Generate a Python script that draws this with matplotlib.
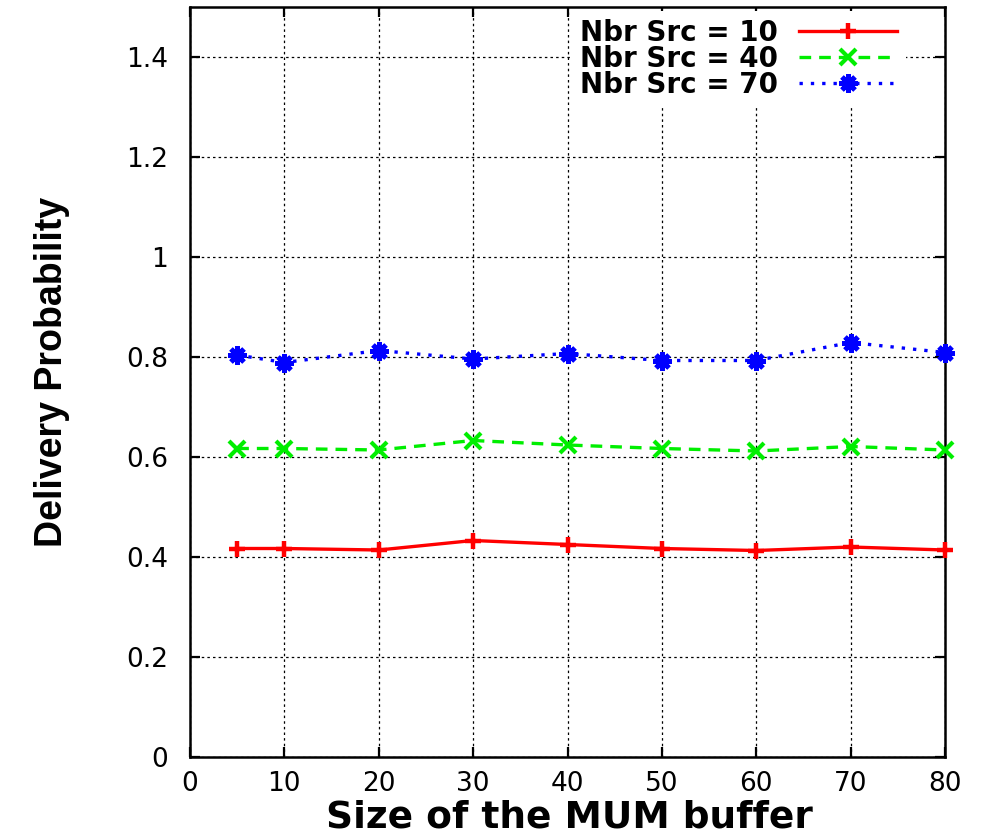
import matplotlib
matplotlib.use("Agg")
import matplotlib.pyplot as plt

# Delivery probability versus MUM buffer size for three source counts
buffer_sizes = [5, 10, 20, 30, 40, 50, 60, 70, 80]
src10 = [0.417, 0.417, 0.414, 0.433, 0.425, 0.417, 0.413, 0.420, 0.414]
src40 = [0.617, 0.617, 0.614, 0.633, 0.624, 0.617, 0.612, 0.621, 0.614]
src70 = [0.804, 0.789, 0.813, 0.796, 0.807, 0.793, 0.793, 0.829, 0.809]
series_labels = ["Nbr Src = 10", "Nbr Src = 40", "Nbr Src = 70"]

x_ticks = [0, 10, 20, 30, 40, 50, 60, 70, 80]
y_ticks = [0, 0.2, 0.4, 0.6, 0.8, 1.0, 1.2, 1.4]
y_tick_labels = ["0", "0.2", "0.4", "0.6", "0.8", "1", "1.2", "1.4"]

fig = plt.figure(figsize=(9.82, 8.36), dpi=100)
ax = fig.add_axes([190 / 982, 79 / 836, 755 / 982, 750 / 836])

ax.plot(buffer_sizes, src10, color="#ff0000", lw=2.4, marker="+", ms=12, mew=3.2,
        clip_on=False, zorder=4, label=series_labels[0])
ax.plot(buffer_sizes, src40, color="#00ee00", lw=2.4, marker="x", ms=11, mew=3,
        dashes=(3.5, 2.4), clip_on=False, zorder=4, label=series_labels[1])
ax.plot(buffer_sizes, src70, color="#0000ff", lw=2.4, marker=(8, 2, 0), ms=13, mew=3.5,
        dashes=(1.0, 2.4), clip_on=False, zorder=4, label=series_labels[2])

ax.set_xlim(0, 80)
ax.set_ylim(0, 1.5)
ax.set_xticks(x_ticks)
ax.set_yticks(y_ticks)
ax.set_yticklabels(y_tick_labels)

ax.grid(True, color="black", lw=0.9, linestyle=(0, (2, 2.5)))
ax.set_axisbelow(True)

for sp in ax.spines.values():
    sp.set_linewidth(1.8)

ax.tick_params(axis="both", which="major", direction="in", length=7, width=1.6,
               top=True, right=True, labelsize=19)
ax.tick_params(axis="y", pad=16)
ax.tick_params(axis="x", pad=10)
for lbl in ax.get_xticklabels() + ax.get_yticklabels():
    lbl.set_family("DejaVu Sans")

ax.set_xlabel("Size of the MUM buffer", fontsize=27, fontweight="bold",
              family="DejaVu Sans")
ax.xaxis.label.set_va("center")
ax.xaxis.set_label_coords(0.503, -0.08)

ax.set_ylabel("Delivery Probability", fontsize=27, fontweight="bold",
              family="Liberation Sans")
ax.yaxis.label.set_va("center")
ax.yaxis.set_label_coords(-0.183, 0.513)

leg = ax.legend(loc="upper right", bbox_to_anchor=(0.948, 0.995),
                borderaxespad=0, markerfirst=False, frameon=True,
                prop={"family": "DejaVu Sans", "weight": "bold", "size": 20},
                handlelength=3.56, handletextpad=0.75, labelspacing=-0.07,
                borderpad=0.3, fancybox=False)
leg.get_frame().set_facecolor("white")
leg.get_frame().set_edgecolor("none")
leg.get_frame().set_alpha(1)
leg.set_zorder(5)
for t in leg.get_texts():
    t.set_ha("right")

fig.savefig("out.png", dpi=100)
